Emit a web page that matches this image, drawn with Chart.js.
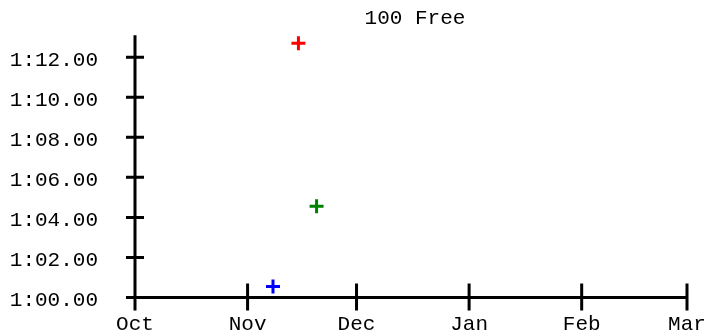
<!DOCTYPE html>
<html>
<head>
<meta charset="utf-8">
<script src="https://cdn.jsdelivr.net/npm/chart.js@4/dist/chart.umd.min.js"></script>
<style>
html,body{margin:0;padding:0;background:#fff;}
#wrap{width:708px;height:334px;position:relative;}
</style>
</head>
<body>
<div id="wrap"><canvas id="c"></canvas></div>
<script>
// ---- data ----
const chartTitle = '100 Free';
const monthLabels = ['Oct', 'Nov', 'Dec', 'Jan', 'Feb', 'Mar'];
const monthStartDays = [0, 31, 61, 92, 123, 152]; // days since Oct 1
const yTickSeconds = [60, 62, 64, 66, 68, 70, 72];
const swimDays = [45, 50, 38];            // days since Oct 1
const swimSeconds = [72.70, 64.56, 60.55]; // times in seconds
const seriesColors = ['#ff0000', '#008000', '#0000ff'];

const FONT = '"Liberation Mono", "Courier New", monospace';

function fmtTime(v) {
  const m = Math.floor(v / 60);
  const s = (v - m * 60).toFixed(2).padStart(5, '0');
  return m + ':' + s;
}

function zeroPad(s) {
  s.paddingTop = 0; s.paddingBottom = 0; s.paddingLeft = 0; s.paddingRight = 0;
}

const axesPlugin = {
  id: 'customAxes',
  afterLayout(chart) {
    const t = chart.titleBlock;
    if (t) {
      t.left = chart.chartArea.left;
      t.right = chart.chartArea.right + 8;
    }
  },
  beforeDatasetsDraw(chart) {
    const {ctx, scales: {x, y}} = chart;
    const x0 = x.getPixelForValue(x.min);
    const y0 = y.getPixelForValue(y.min);
    ctx.save();
    ctx.strokeStyle = '#000';
    ctx.lineWidth = 3;
    ctx.lineCap = 'butt';
    ctx.beginPath();
    ctx.moveTo(x0, y.getPixelForValue(y.max));
    ctx.lineTo(x0, y0 + 13);
    ctx.moveTo(x0 - 9, y0);
    ctx.lineTo(x.getPixelForValue(x.max), y0);
    y.ticks.forEach(t => {
      const py = y.getPixelForValue(t.value);
      ctx.moveTo(x0 - 9, py); ctx.lineTo(x0 + 9, py);
    });
    x.ticks.forEach(t => {
      const px = x.getPixelForValue(t.value);
      ctx.moveTo(px, y0 - 14); ctx.lineTo(px, y0 + 13);
    });
    ctx.stroke();
    ctx.restore();
  }
};

const datasets = swimDays.map((d, i) => ({
  data: [{x: d, y: swimSeconds[i]}],
  pointStyle: 'cross',
  pointRadius: 7,
  pointBorderWidth: 3,
  borderColor: seriesColors[i],
  backgroundColor: seriesColors[i],
  showLine: false
}));

new Chart(document.getElementById('c'), {
  type: 'scatter',
  data: {datasets},
  plugins: [axesPlugin],
  options: {
    responsive: true,
    maintainAspectRatio: false,
    animation: false,
    layout: {padding: {left: 0, right: 21, top: 0, bottom: 0}},
    plugins: {
      legend: {display: false},
      tooltip: {enabled: false},
      title: {
        display: true,
        text: chartTitle,
        color: '#000',
        font: {family: FONT, size: 21, weight: 'normal', lineHeight: 1.2},
        padding: {top: 6, bottom: 4}
      }
    },
    scales: {
      x: {
        type: 'linear',
        min: monthStartDays[0],
        max: monthStartDays[monthStartDays.length - 1],
        grid: {display: false, drawTicks: false},
        border: {display: false},
        afterBuildTicks(s) { s.ticks = monthStartDays.map(v => ({value: v})); },
        afterFit(s) { s.height = 36.5; zeroPad(s); },
        ticks: {
          autoSkip: false,
          maxRotation: 0,
          padding: 14,
          color: '#000',
          font: {family: FONT, size: 21},
          callback(v, i) { return monthLabels[i]; }
        }
      },
      y: {
        type: 'linear',
        min: 60,
        max: 73.1,
        grid: {display: false, drawTicks: false},
        border: {display: false},
        afterBuildTicks(s) { s.ticks = yTickSeconds.map(v => ({value: v})); },
        afterFit(s) { s.width = 135; zeroPad(s); },
        ticks: {
          autoSkip: false,
          padding: 37,
          labelOffset: 3,
          color: '#000',
          font: {family: FONT, size: 21},
          callback(v) { return fmtTime(v); }
        }
      }
    }
  }
});
</script>
</body>
</html>
